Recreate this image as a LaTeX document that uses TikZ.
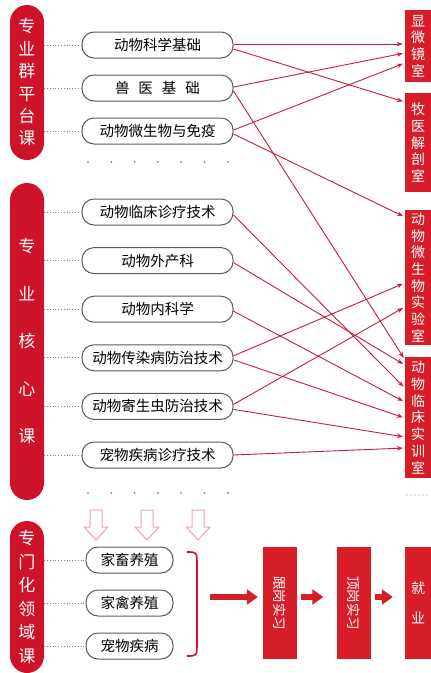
\documentclass[tikz,border=0pt]{standalone}
\usepackage{fontspec}
\newfontfamily\cjk{Noto Sans CJK SC}
\usetikzlibrary{positioning, arrows.meta}
\definecolor{zred}{RGB}{215,30,40}
\definecolor{pillred}{RGB}{206,18,42}
\definecolor{linkred}{RGB}{200,28,58}
\definecolor{boxgrey}{RGB}{90,90,90}
\definecolor{hollowpink}{RGB}{234,165,175}
\definecolor{dotgrey}{RGB}{130,130,130}

\begin{document}
\begin{tikzpicture}[
	x=1pt,
	y=-1pt,
	every node/.style={font=\cjk},
	course/.style={draw=boxgrey, line width=1pt, fill=white, rounded corners=12pt, minimum width=151pt, minimum height=26pt, inner sep=0pt, font=\cjk\fontsize{14.5}{16}\selectfont},
	field/.style={course, minimum width=87pt},
	pill/.style={fill=pillred, rounded corners=17pt, minimum width=34pt, inner sep=0pt, text=white, align=center},
	lab/.style={fill=zred, minimum width=26pt, inner sep=0pt, text=white, align=center, font=\cjk\fontsize{14}{16.7}\selectfont},
	stage/.style={fill=zred, minimum width=34pt, minimum height=112pt, inner sep=0pt},
	stagetext/.style={rotate=-90, text=white, inner sep=0pt, font=\cjk\fontsize{13.5}{15}\selectfont},
	link/.style={draw=linkred, line width=0.9pt, -{Stealth[length=6pt, width=4.5pt]}, shorten >=2pt},
	leader/.style={draw=dotgrey, dotted, line width=0.8pt},
	bigarrow/.style={draw=zred, line width=6pt, -{Triangle[length=11pt, width=15pt]}},
	hollow/.style={draw=hollowpink, line width=1pt, fill=white}
]
\useasboundingbox (0,0) rectangle (431,673);

% group labels
\node[pill, minimum height=155pt, font=\cjk\fontsize{17}{22.4}\selectfont] (g1) at (27,82.5) {专\\业\\群\\平\\台\\课};
\node[pill, minimum height=317pt, font=\cjk\fontsize{17}{47.5}\selectfont] (g2) at (27,341.5) {专\\业\\核\\心\\课};
\node[pill, minimum height=152pt, font=\cjk\fontsize{17}{23.5}\selectfont] (g3) at (27,597) {专\\门\\化\\领\\域\\课};

% platform courses
\node[course] (c1) at (157.5,45) {动物科学基础};
\node[course, below=16pt of c1] (c2) {兽\hspace{9pt}医\hspace{9pt}基\hspace{9pt}础};
\node[course, below=16pt of c2] (c3) {动物微生物与免疫};

% core courses
\node[course] (c4) at (157.5,212) {动物临床诊疗技术};
\node[course, below=21.6pt of c4] (c5) {动物外产科};
\node[course, below=21.6pt of c5] (c6) {动物内科学};
\node[course, below=21.6pt of c6] (c7) {动物传染病防治技术};
\node[course, below=21.6pt of c7] (c8) {动物寄生虫防治技术};
\node[course, below=21.6pt of c8] (c9) {宠物疾病诊疗技术};

% specialised fields
\node[field] (d1) at (129.5,560) {家畜养殖};
\node[field, below=16pt of d1] (d2) {家禽养殖};
\node[field, below=16pt of d2] (d3) {宠物疾病};

\foreach \c in {c1,c2,c3} \draw[leader] (g1.east |- \c) -- (\c.west);
\foreach \c in {c4,c5,c6,c7,c8,c9} \draw[leader] (g2.east |- \c) -- (\c.west);
\foreach \c in {d1,d2,d3} \draw[leader] (g3.east |- \c) -- (\c.west);

\foreach \i in {0,...,6} {
	\fill[dotgrey] ({88+\i*23.3},162) circle (1pt);
	\fill[dotgrey] ({88+\i*23.3},493) circle (1pt);
}

% labs
\node[lab, minimum height=72pt] (r1) at (418,46) {显\\微\\镜\\室};
\node[lab, minimum height=99pt] (r2) at (418,142.5) {牧\\医\\解\\剖\\室};
\node[lab, minimum height=135pt] (r3) at (418,277.5) {动\\物\\微\\生\\物\\实\\验\\室};
\node[lab, minimum height=121pt] (r4) at (418,417.5) {动\\物\\临\\床\\实\\训\\室};
\foreach \x in {407,411,...,431} \fill[dotgrey] (\x,495) circle (0.6pt);

\draw[link] ([yshift=1pt]c1.east) -- ([yshift=2pt]r1.west);
\draw[link] ([yshift=-4pt]c1.east) -- ([yshift=40.5pt]r2.west);
\draw[link] ([yshift=1pt]c2.east) -- ([yshift=-7pt]r1.west);
\draw[link] ([yshift=-3pt]c2.east) -- ([yshift=58pt]r4.west);
\draw[link] ([yshift=1pt]c3.east) -- ([yshift=-17pt]r1.west);
\draw[link] ([yshift=-3pt]c3.east) -- ([yshift=60.5pt]r3.west);
\draw[link] ([yshift=-3pt]c4.east) -- ([yshift=29.5pt]r4.west);
\draw[link] ([yshift=-2pt]c5.east) -- ([yshift=52.5pt]r4.west);
\draw[link] ([yshift=-2pt]c6.east) -- ([yshift=15.5pt]r4.west);
\draw[link] ([yshift=2pt]c7.east) -- ([yshift=-5.5pt]r3.west);
\draw[link] ([yshift=-2pt]c7.east) -- ([yshift=-0.5pt]r4.west);
\draw[link] ([yshift=2pt]c8.east) -- ([yshift=-29.5pt]r3.west);
\draw[link] ([yshift=-3pt]c8.east) -- ([yshift=-19.5pt]r4.west);
\draw[link] (c9.east) -- ([yshift=-30.5pt]r4.west);

% hollow arrows into the fields
\foreach \x in {96,147,198}
	\draw[hollow] (\x-6,510) -- (\x+6,510) -- (\x+6,527) -- (\x+12,527) -- (\x,540) -- (\x-12,527) -- (\x-6,527) -- cycle;

% bracket
\draw[draw=pillred, line width=1.6pt] (187,552) .. controls (197,552) .. (197,565) -- (197,643) .. controls (197,656) .. (187,656);

% practice stages
\node[stage] (p1) at (280,603) {};
\node[stagetext] (p1t) at (p1) {跟岗实习};
\node[stage] (p2) at (353.5,603) {};
\node[stagetext] (p2t) at (p2) {顶岗实习};
\node[stage, minimum width=26pt, text=white, align=center, font=\cjk\fontsize{14}{30}\selectfont] (p3) at (418,603) {就\\业};

\coordinate (brk) at (210,597);
\draw[bigarrow, shorten >=5pt] (brk) -- (p1.west |- brk);
\draw[bigarrow, shorten <=4pt, shorten >=13pt] (p1.east |- brk) -- (p2.west |- brk);
\draw[bigarrow, shorten <=4pt, shorten >=12pt] (p2.east |- brk) -- (p3.west |- brk);

\end{tikzpicture}
\end{document}
